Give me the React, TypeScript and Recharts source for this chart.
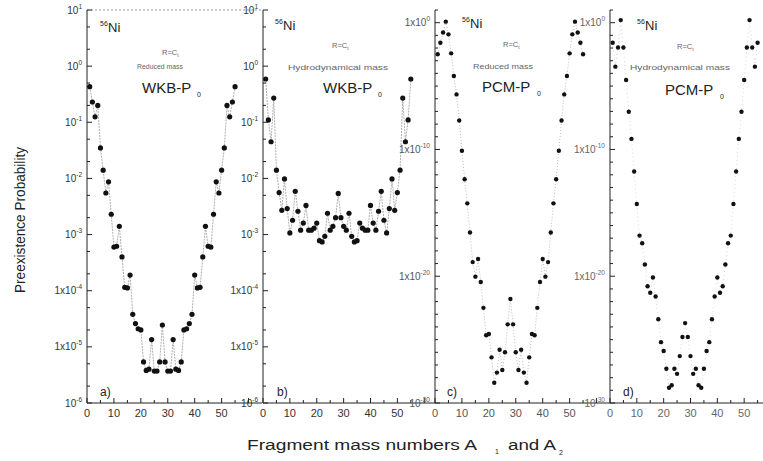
import React from 'react';
import { LineChart, Line, XAxis, YAxis, ReferenceLine } from 'recharts';

// fragment mass number A1 (A2 = 56 - A1)
const massNumbers = [
  1, 2, 3, 4, 5, 6, 7, 8, 9, 10, 11, 12, 13, 14, 15, 16, 17, 18, 19, 20,
  21, 22, 23, 24, 25, 26, 27, 28, 29, 30, 31, 32, 33, 34, 35, 36, 37, 38, 39, 40,
  41, 42, 43, 44, 45, 46, 47, 48, 49, 50, 51, 52, 53, 54, 55,
];

// a) WKB-P0, reduced mass
const wkbReduced = [
  4.3e-1, 2.3e-1, 1.25e-1, 2.0e-1, 3.5e-2, 1.4e-2, 5.5e-3, 8.7e-3, 2.3e-3, 6.0e-4,
  6.2e-4, 1.4e-3, 4.0e-4, 1.15e-4, 1.12e-4, 1.9e-4, 3.8e-5, 2.6e-5, 2.1e-5, 2.0e-5,
  5.4e-6, 3.8e-6, 4.0e-6, 1.35e-5, 3.7e-6, 3.7e-6, 5.4e-6, 2.45e-5, 5.4e-6, 3.7e-6,
  3.7e-6, 1.35e-5, 4.0e-6, 3.8e-6, 5.4e-6, 2.0e-5, 2.1e-5, 2.6e-5, 3.8e-5, 1.9e-4,
  1.12e-4, 1.15e-4, 4.0e-4, 1.4e-3, 6.2e-4, 6.0e-4, 2.3e-3, 8.7e-3, 5.5e-3, 1.4e-2,
  3.5e-2, 2.0e-1, 1.25e-1, 2.3e-1, 4.3e-1,
];

// b) WKB-P0, hydrodynamical mass
const wkbHydro = [
  5.9e-1, 1.1e-1, 4.5e-2, 2.7e-1, 1.4e-2, 5.6e-3, 2.7e-3, 9.8e-3, 2.9e-3, 1.07e-3,
  1.8e-3, 5.9e-3, 2.6e-3, 1.2e-3, 1.6e-3, 3.3e-3, 1.2e-3, 1.2e-3, 1.3e-3, 1.6e-3,
  7.8e-4, 7.4e-4, 9.3e-4, 2.4e-3, 1.2e-3, 1.4e-3, 2.0e-3, 5.4e-3, 2.0e-3, 1.4e-3,
  1.2e-3, 2.4e-3, 9.3e-4, 7.4e-4, 7.8e-4, 1.6e-3, 1.3e-3, 1.2e-3, 1.2e-3, 3.3e-3,
  1.6e-3, 1.2e-3, 2.6e-3, 5.9e-3, 1.8e-3, 1.07e-3, 2.9e-3, 9.8e-3, 2.7e-3, 5.6e-3,
  1.4e-2, 2.7e-1, 4.5e-2, 1.1e-1, 5.9e-1,
];

// c) PCM-P0, reduced mass
const pcmReduced = [
  3.2e-3, 2.6e-2, 1.7e-1, 1.2, 1.2e-1, 3.8e-3, 6.3e-5, 2.2e-6, 1.9e-8, 8e-11,
  4.5e-13, 5.6e-15, 2.8e-17, 1.3e-19, 9.3e-21, 2.3e-19, 3.5e-21, 3.2e-23, 2.2e-25, 2.8e-25,
  4e-27, 4e-29, 2.5e-28, 1.6e-26, 4e-28, 1e-26, 1.6e-24, 1.6e-22, 1.6e-24, 1e-26,
  4e-28, 1.6e-26, 2.5e-28, 4e-29, 4e-27, 2.8e-25, 2.2e-25, 3.2e-23, 3.5e-21, 2.3e-19,
  9.3e-21, 1.3e-19, 2.8e-17, 5.6e-15, 4.5e-13, 8e-11, 1.9e-8, 2.2e-6, 6.3e-5, 3.8e-3,
  1.2e-1, 1.2, 1.7e-1, 2.6e-2, 3.2e-3,
];

// d) PCM-P0, hydrodynamical mass
const pcmHydro = [
  2.6e-2, 3.4e-4, 1.1e-2, 1.6, 1.1e-2, 3e-5, 9.5e-8, 6.8e-10, 1.8e-12, 5e-15,
  1.6e-17, 4e-18, 8.5e-20, 1.6e-21, 5e-22, 8e-21, 2.5e-22, 4e-24, 6.3e-26, 1.26e-26,
  5e-28, 1.6e-29, 2.5e-29, 5e-28, 2e-28, 5e-27, 1.6e-25, 2e-24, 1.6e-25, 5e-27,
  2e-28, 5e-28, 2.5e-29, 1.6e-29, 5e-28, 1.26e-26, 6.3e-26, 4e-24, 2.5e-22, 8e-21,
  5e-22, 1.6e-21, 8.5e-20, 4e-18, 1.6e-17, 5e-15, 1.8e-12, 6.8e-10, 9.5e-8, 3e-5,
  1.1e-2, 1.6, 1.1e-2, 3.4e-4, 2.6e-2,
];

const xTicks = [0, 5, 10, 15, 20, 25, 30, 35, 40, 45, 50, 55, 60];

const wkbTicks = [
  1e1, 5e0, 2e0, 1e0, 5e-1, 2e-1, 1e-1, 5e-2, 2e-2, 1e-2, 5e-3, 2e-3, 1e-3,
  5e-4, 2e-4, 1e-4, 5e-5, 2e-5, 1e-5, 5e-6, 2e-6, 1e-6,
];
const wkbTickLabels: [number, string, string][] = [
  [1e1, '10', '1'],
  [1e0, '10', '0'],
  [1e-1, '10', '-1'],
  [1e-2, '10', '-2'],
  [1e-3, '10', '-3'],
  [1e-4, '1x10', '-4'],
  [1e-5, '1x10', '-5'],
  [1e-6, '10', '-6'],
];

const pcmTicks = [
  1e1, 1e0, 1e-1, 1e-2, 1e-3, 1e-4, 1e-5, 1e-6, 1e-7, 1e-8, 1e-9, 1e-10, 1e-11,
  1e-12, 1e-13, 1e-14, 1e-15, 1e-16, 1e-17, 1e-18, 1e-19, 1e-20, 1e-21, 1e-22,
  1e-23, 1e-24, 1e-25, 1e-26, 1e-27, 1e-28, 1e-29, 1e-30,
];
const pcmTickLabels: [number, string, string][] = [
  [1e0, '1x10', '0'],
  [1e-10, '1x10', '-10'],
  [1e-20, '1x10', '-20'],
  [1e-30, '10', '-30'],
];

const FONT = '"Liberation Sans", Arial, Helvetica, sans-serif';
const INK = '#222';
const PX_PER_A = 2.69;

function makeYTick(labels: [number, string, string][], color: string) {
  const map = new Map(labels.map(([v, b, e]) => [v, [b, e]]));
  return (props: any) => {
    const { x, y, payload } = props;
    const lab = map.get(payload.value);
    return (
      <g>
        <line x1={x} x2={x + (lab ? 5 : 3)} y1={y} y2={y} stroke={INK} strokeWidth={1} />
        {lab && (
          <text x={x - 5} y={y + 3.5} textAnchor="end" fontSize={10} fill={color} fontFamily={FONT}>
            {lab[0]}
            <tspan dy={-5} fontSize={6.5}>{lab[1]}</tspan>
          </text>
        )}
      </g>
    );
  };
}

function makeXTick(color: string) {
  return (props: any) => {
    const { x, y, payload } = props;
    const major = payload.value % 10 === 0;
    return (
      <g>
        <line x1={x} x2={x} y1={y} y2={y - (major ? 5 : 3)} stroke={INK} strokeWidth={1} />
        {major && payload.value <= 50 && (
          <text x={x} y={y + 14} textAnchor="middle" fontSize={11} fill={color} fontFamily={FONT}>
            {payload.value}
          </text>
        )}
      </g>
    );
  };
}

type PanelProps = {
  left: number;
  yAxisWidth: number;
  xMax: number;
  values: number[];
  yDomain: [number, number];
  yTicks: number[];
  yLabels: [number, string, string][];
  labelColor: string;
  lineColor: string;
  dash: string;
  dotR: number;
  topBorder?: boolean;
};

function Panel(p: PanelProps) {
  const plotW = Math.round(p.xMax * PX_PER_A);
  const data = massNumbers.map((a, i) => ({ a, p: p.values[i] }));
  const ticks = xTicks.filter((t) => t < p.xMax);
  return (
    <div style={{ position: 'absolute', left: p.left, top: 0 }}>
      <LineChart
        width={p.yAxisWidth + plotW}
        height={461}
        data={data}
        margin={{ top: 10, right: 0, bottom: 38, left: 0 }}
      >
        <XAxis
          dataKey="a"
          type="number"
          domain={[0, p.xMax]}
          ticks={ticks}
          interval={0}
          height={20}
          tickSize={0}
          tickMargin={0}
          tickLine={false}
          axisLine={{ stroke: INK }}
          tick={makeXTick(p.labelColor)}
        />
        <YAxis
          type="number"
          scale="log"
          domain={p.yDomain}
          allowDataOverflow
          ticks={p.yTicks}
          interval={0}
          width={p.yAxisWidth}
          tickSize={0}
          tickMargin={0}
          tickLine={false}
          axisLine={{ stroke: INK }}
          tick={makeYTick(p.yLabels, p.labelColor)}
        />
        {p.topBorder && (
          <ReferenceLine
            y={p.yDomain[1]}
            segment={[{ x: 0, y: p.yDomain[1] }, { x: 56, y: p.yDomain[1] }]}
            stroke="#999"
            strokeDasharray="2 2"
          />
        )}
        <Line
          dataKey="p"
          type="linear"
          stroke={p.lineColor}
          strokeWidth={0.8}
          strokeDasharray={p.dash}
          dot={{ r: p.dotR, fill: '#111', stroke: '#111', strokeWidth: 0 }}
          isAnimationActive={false}
        />
      </LineChart>
    </div>
  );
}

function Iso({ x, y }: { x: number; y: number }) {
  return (
    <g fontFamily={FONT} fill="#222">
      <text x={x} y={y - 6} fontSize={7}>56</text>
      <text x={x + 8} y={y} fontSize={13}>Ni</text>
    </g>
  );
}

function Method({ x, y, name }: { x: number; y: number; name: string }) {
  return (
    <g fontFamily={FONT} fill="#222">
      <text x={x} y={y} fontSize={15}>{name}</text>
      <text x={x + 55} y={y + 4} fontSize={7}>0</text>
    </g>
  );
}

function Small({ x, y, text, w }: { x: number; y: number; text: string; w: number }) {
  return (
    <text x={x} y={y} fontSize={7.5} fill="#666" fontFamily={FONT} textLength={w} lengthAdjust="spacingAndGlyphs">
      {text}
    </text>
  );
}

function RC({ x, y }: { x: number; y: number }) {
  return (
    <text x={x} y={y} fontSize={7.5} fill="#666" fontFamily={FONT}>
      R=C<tspan dy={2} fontSize={5}>t</tspan>
    </text>
  );
}

export default function App() {
  return (
    <div
      style={{
        position: 'absolute',
        left: 0,
        top: 0,
        width: 763,
        height: 461,
        background: '#fff',
        overflow: 'hidden',
        fontFamily: FONT,
      }}
    >
      <Panel
        left={0}
        yAxisWidth={87}
        xMax={65}
        values={wkbReduced}
        yDomain={[1e-6, 10]}
        yTicks={wkbTicks}
        yLabels={wkbTickLabels}
        labelColor="#333"
        lineColor="#999"
        dash="2 1"
        dotR={2.6}
        topBorder
      />
      <Panel
        left={213}
        yAxisWidth={50}
        xMax={64}
        values={wkbHydro}
        yDomain={[1e-6, 10]}
        yTicks={wkbTicks}
        yLabels={wkbTickLabels}
        labelColor="#333"
        lineColor="#999"
        dash="2 1"
        dotR={2.6}
      />
      <Panel
        left={385}
        yAxisWidth={50}
        xMax={65}
        values={pcmReduced}
        yDomain={[1e-30, 10]}
        yTicks={pcmTicks}
        yLabels={pcmTickLabels}
        labelColor="#555"
        lineColor="#aaa"
        dash="1 2"
        dotR={2.2}
      />
      <Panel
        left={560}
        yAxisWidth={50}
        xMax={60}
        values={pcmHydro}
        yDomain={[1e-30, 10]}
        yTicks={pcmTicks}
        yLabels={pcmTickLabels}
        labelColor="#666"
        lineColor="#ccc"
        dash="1 3"
        dotR={2.2}
      />
      <svg
        width={763}
        height={461}
        style={{ position: 'absolute', left: 0, top: 0, pointerEvents: 'none' }}
      >
        <Iso x={100} y={32} />
        <RC x={162} y={55} />
        <Small x={137} y={69} text="Reduced mass" w={46} />
        <Method x={142} y={93} name="WKB-P" />

        <Iso x={275} y={30} />
        <RC x={332} y={48} />
        <Small x={288} y={70} text="Hydrodynamical mass" w={100} />
        <Method x={323} y={93} name="WKB-P" />

        <Iso x={462} y={28} />
        <RC x={503} y={47} />
        <Small x={473} y={69} text="Reduced mass" w={60} />
        <Method x={482} y={92} name="PCM-P" />

        <Iso x={637} y={30} />
        <RC x={677} y={49} />
        <Small x={630} y={70} text="Hydrodynamical mass" w={100} />
        <Method x={665} y={95} name="PCM-P" />

        <g fontFamily={FONT} fontSize={12} fill="#222">
          <text x={100} y={396}>a)</text>
          <text x={277} y={396}>b)</text>
          <text x={447} y={396}>c)</text>
          <text x={623} y={396}>d)</text>
        </g>

        <text
          transform="translate(25,220) rotate(-90)"
          textAnchor="middle"
          fontSize={14}
          fill="#222"
          fontFamily={FONT}
          textLength={146}
          lengthAdjust="spacingAndGlyphs"
        >
          Preexistence Probability
        </text>

        <g fontFamily={FONT} fill="#222">
          <text x={247} y={450} fontSize={14} textLength={230} lengthAdjust="spacingAndGlyphs">
            Fragment mass numbers A
          </text>
          <text x={495} y={454} fontSize={7}>1</text>
          <text x={508} y={450} fontSize={14} textLength={48} lengthAdjust="spacingAndGlyphs">
            and A
          </text>
          <text x={559} y={455} fontSize={7}>2</text>
        </g>
      </svg>
    </div>
  );
}
